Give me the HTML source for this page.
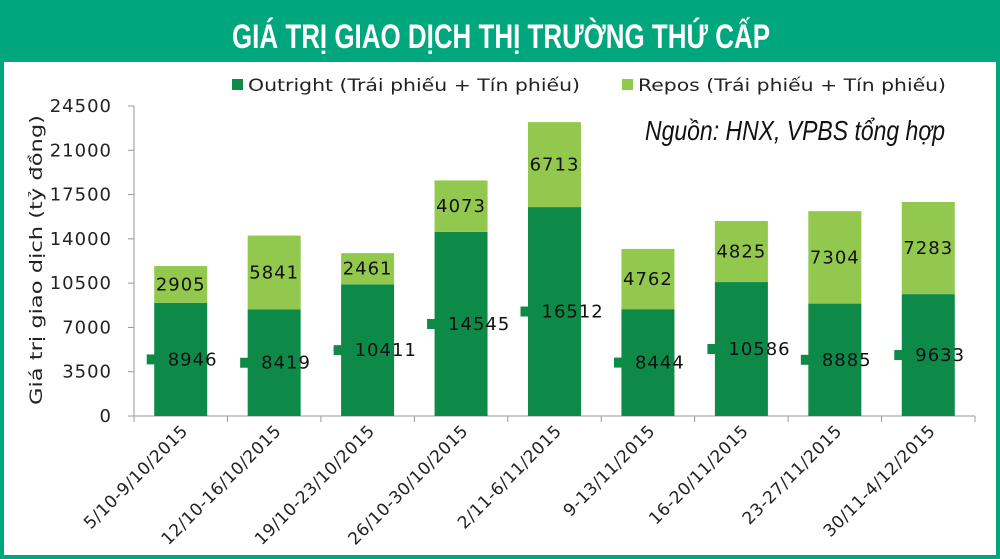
<!DOCTYPE html>
<html><head><meta charset="utf-8"><style>
body{margin:0;width:1000px;height:559px;overflow:hidden;background:#00a67e;}
svg{display:block}
</style></head><body>
<svg width="1000" height="559" id="svg" xmlns="http://www.w3.org/2000/svg">
<rect x="0" y="0" width="1000" height="559" fill="#00a67e"/>
<rect x="4" y="62" width="992" height="493" fill="#fff"/>
<text x="232" y="48" textLength="538" lengthAdjust="spacingAndGlyphs" fill="#fff" font-family="Liberation Sans, sans-serif" font-weight="bold" font-size="34">GIÁ TRỊ GIAO DỊCH THỊ TRƯỜNG THỨ CẤP</text>
<g font-family="DejaVu Sans, sans-serif" font-size="17" fill="#222">
<rect x="232" y="79" width="11" height="11" fill="#0e8a48"/>
<text x="248" y="91" textLength="332" lengthAdjust="spacingAndGlyphs">Outright (Trái phiếu + Tín phiếu)</text>
<rect x="622" y="79" width="11" height="11" fill="#92c84e"/>
<text x="638" y="91" textLength="308" lengthAdjust="spacingAndGlyphs">Repos (Trái phiếu + Tín phiếu)</text>
</g>
<text x="645" y="140" textLength="300" lengthAdjust="spacingAndGlyphs" font-family="Liberation Sans, sans-serif" font-style="italic" font-size="28" fill="#111">Nguồn: HNX, VPBS tổng hợp</text>
<text transform="translate(42,260) rotate(-90)" text-anchor="middle" textLength="290" lengthAdjust="spacingAndGlyphs" font-family="DejaVu Sans, sans-serif" font-size="17" fill="#222">Giá trị giao dịch  (tỷ đồng)</text>
<g id="plot"></g>
</svg>
<script>
const categories=["5/10-9/10/2015","12/10-16/10/2015","19/10-23/10/2015","26/10-30/10/2015","2/11-6/11/2015","9-13/11/2015","16-20/11/2015","23-27/11/2015","30/11-4/12/2015"];
const outright=[8946,8419,10411,14545,16512,8444,10586,8885,9633];
const repos=[2905,5841,2461,4073,6713,4762,4825,7304,7283];
const yTicks=[0,3500,7000,10500,14000,17500,21000,24500];
const NS="http://www.w3.org/2000/svg";
const g=document.getElementById('plot');
const X0=134,X1=975,Y0=416,Y1=106,YMAX=24500;
const bw=(X1-X0)/categories.length;
function y(v){return Y0-(v/YMAX)*(Y0-Y1);}
function xc(i){return X0+bw*(i+0.5);}
function mk(t,a){const e=document.createElementNS(NS,t);for(const k in a)e.setAttribute(k,a[k]);g.appendChild(e);return e;}
const F="DejaVu Sans, sans-serif";
let ax=mk('line',{x1:X0,y1:Y1,x2:X0,y2:Y0,stroke:'#999','stroke-width':1});


yTicks.forEach(v=>{
 let t=mk('line',{x1:X0-6,y1:y(v),x2:X0,y2:y(v),stroke:'#999'});
 
 
 let l=mk('text',{x:X0-22,y:y(v)+6,'text-anchor':'end','font-family':F,'font-size':18,'letter-spacing':1,fill:'#222'});
 l.textContent=v;
 
 
});
let xa=mk('line',{x1:X0,y1:Y0,x2:X1,y2:Y0,stroke:'#999'});


for(let i=0;i<=categories.length;i++){
 let t=mk('line',{x1:X0+bw*i,y1:Y0,x2:X0+bw*i,y2:Y0+6,stroke:'#999'});
 
 
}
const BW=53;
categories.forEach((c,i)=>{
 const cx=xc(i);
 let b1=mk('rect',{x:cx-BW/2,y:y(outright[i]),width:BW,height:Y0-y(outright[i]),fill:'#0e8a48'});
 
 
 let top=outright[i]+repos[i];
 let b2=mk('rect',{x:cx-BW/2,y:y(top),width:BW,height:y(outright[i])-y(top),fill:'#92c84e'});
 
 
 let ym=y(outright[i]/2);
 let m=mk('rect',{x:cx-34,y:ym-5,width:10,height:10,fill:'#0e8a48'});
 
 
 let l1=mk('text',{x:cx-13,y:ym+6,'font-family':F,'font-size':18,'letter-spacing':1,fill:'#111'});
 l1.textContent=outright[i];
 
 
 let yr=y(outright[i]+repos[i]/2);
 let l2=mk('text',{x:cx,y:yr+6,'text-anchor':'middle','font-family':F,'font-size':18,'letter-spacing':1,fill:'#111'});
 l2.textContent=repos[i];
 
 
 let xl=mk('text',{transform:`translate(${cx+8},${Y0+16}) rotate(-45)`,'text-anchor':'end','font-family':F,'font-size':17,'letter-spacing':0.5,fill:'#222'});
 xl.textContent=c;
 
 
});
</script>
</body></html>
